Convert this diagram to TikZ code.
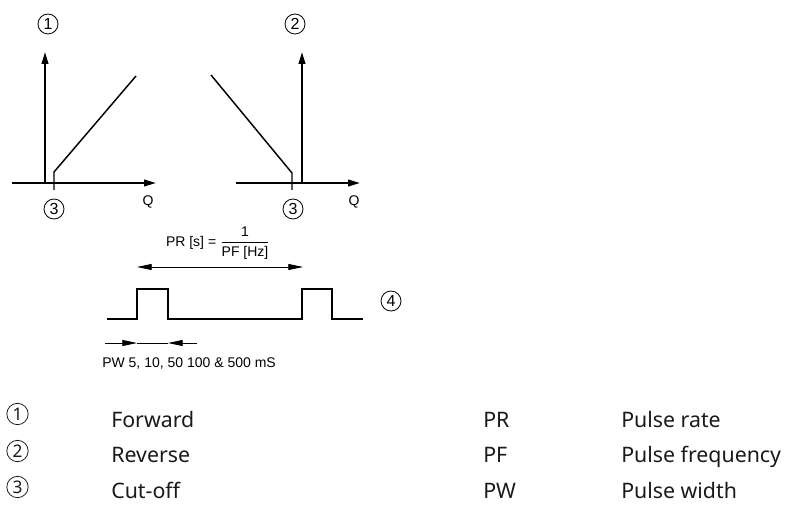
\documentclass[tikz,border=0pt]{standalone}
\usepackage{fontspec}
\setmainfont{Noto Sans}
\newfontfamily\diagfont{Liberation Sans}
\usetikzlibrary{arrows.meta,positioning,calc}
\definecolor{ink}{HTML}{000000}
\definecolor{legendink}{HTML}{1A1A1A}
\tikzset{
  axisline/.style={draw=ink,line width=1.5pt,-{Triangle[length=9pt,width=5pt]}},
  curveline/.style={draw=ink,line width=1.1pt},
  pulseline/.style={draw=ink,line width=1.1pt},
  spanarr/.style={draw=ink,line width=0.6pt,{Triangle[length=11pt,width=4.5pt]}-{Triangle[length=11pt,width=4.5pt]}},
  widtharr/.style={draw=ink,line width=0.6pt,-{Triangle[length=11pt,width=4.5pt]}},
  numcirc/.style={draw=ink,circle,line width=0.6pt,inner sep=0pt,minimum size=15pt,
                  font=\diagfont\fontsize{12}{14}\selectfont},
  keycirc/.style={draw=legendink,circle,line width=0.6pt,inner sep=0pt,minimum size=16pt,
                  font=\fontsize{13}{15}\selectfont,text=legendink},
  difftext/.style={font=\diagfont\fontsize{10.5}{12}\selectfont,text=ink},
  keytext/.style={font=\fontsize{16}{19}\selectfont,text=legendink,anchor=base west,inner sep=0pt}
}
\begin{document}
\begin{tikzpicture}[x=0.75pt,y=-0.75pt]
  \useasboundingbox (0,0) rectangle (787,509);
  % forward characteristic
  \coordinate (fo) at (45,183);
  \coordinate (fcut) at (54,183);
  \draw[axisline] (12,183) -- (156,183);
  \draw[axisline] (fo) -- (45,52);
  \draw[curveline] (54,190) -- (fcut) -- (54,172) -- (136,76);
  \node[numcirc] (fwd) at (48,24) {1};
  \node[numcirc] (fcutlbl) at (54,209) {3};
  \node[difftext] (fq) at (148,202) {Q};
  % reverse characteristic
  \coordinate (ro) at (302,183);
  \coordinate (rcut) at (292,183);
  \draw[axisline] (236,183) -- (360,183);
  \draw[axisline] (ro) -- (302,52);
  \draw[curveline] (211,75) -- (292,173) -- (rcut) -- (292,190);
  \node[numcirc] (rev) at (295,24) {2};
  \node[numcirc] (rcutlbl) at (293,209) {3};
  \node[difftext] (rq) at (354,202) {Q};
  % pulse train
  \node[difftext] (prfrac) at (218,243)
    {PR [s] = $\displaystyle\frac{\mbox{\diagfont 1}}{\mbox{\diagfont PF [Hz]}}$};
  \coordinate (pa) at (137,267);
  \coordinate (pb) at (303,267);
  \draw[spanarr] (pa) -- (pb);
  \draw[pulseline] (107,319) -- (137,319) -- (137,289) -- (168,289) -- (168,319)
    -- (302,319) -- (302,289) -- (332,289) -- (332,319) -- (363,319);
  \node[numcirc] (train) at (391,301) {4};
  \coordinate (wl) at (105,343);
  \coordinate (wr) at (197,343);
  \draw[widtharr] (wl) -- (137,343);
  \draw[widtharr] (wr) -- (168,343);
  \draw[draw=ink,line width=0.6pt] (137,343) -- (168,343);
  \node[difftext,anchor=base west,inner sep=0pt] (pwtext) at (102,367) {PW 5, 10, 50 100 \& 500 mS};
  % legend
  \node[keycirc] (k1) at (17.5,414) {1};
  \node[keycirc] (k2) at (17.5,451) {2};
  \node[keycirc] (k3) at (17.5,487) {3};
  \node[keytext] (t1) at (111,427) {Forward};
  \node[keytext] (t2) at (111,462) {Reverse};
  \node[keytext] (t3) at (111,498) {Cut-off};
  \node[keytext] (a1) at (483,427) {PR};
  \node[keytext] (a2) at (483,462) {PF};
  \node[keytext] (a3) at (483,498) {PW};
  \node[keytext] (d1) at (621,427) {Pulse rate};
  \node[keytext] (d2) at (621,462) {Pulse frequency};
  \node[keytext] (d3) at (621,498) {Pulse width};
\end{tikzpicture}
\end{document}
